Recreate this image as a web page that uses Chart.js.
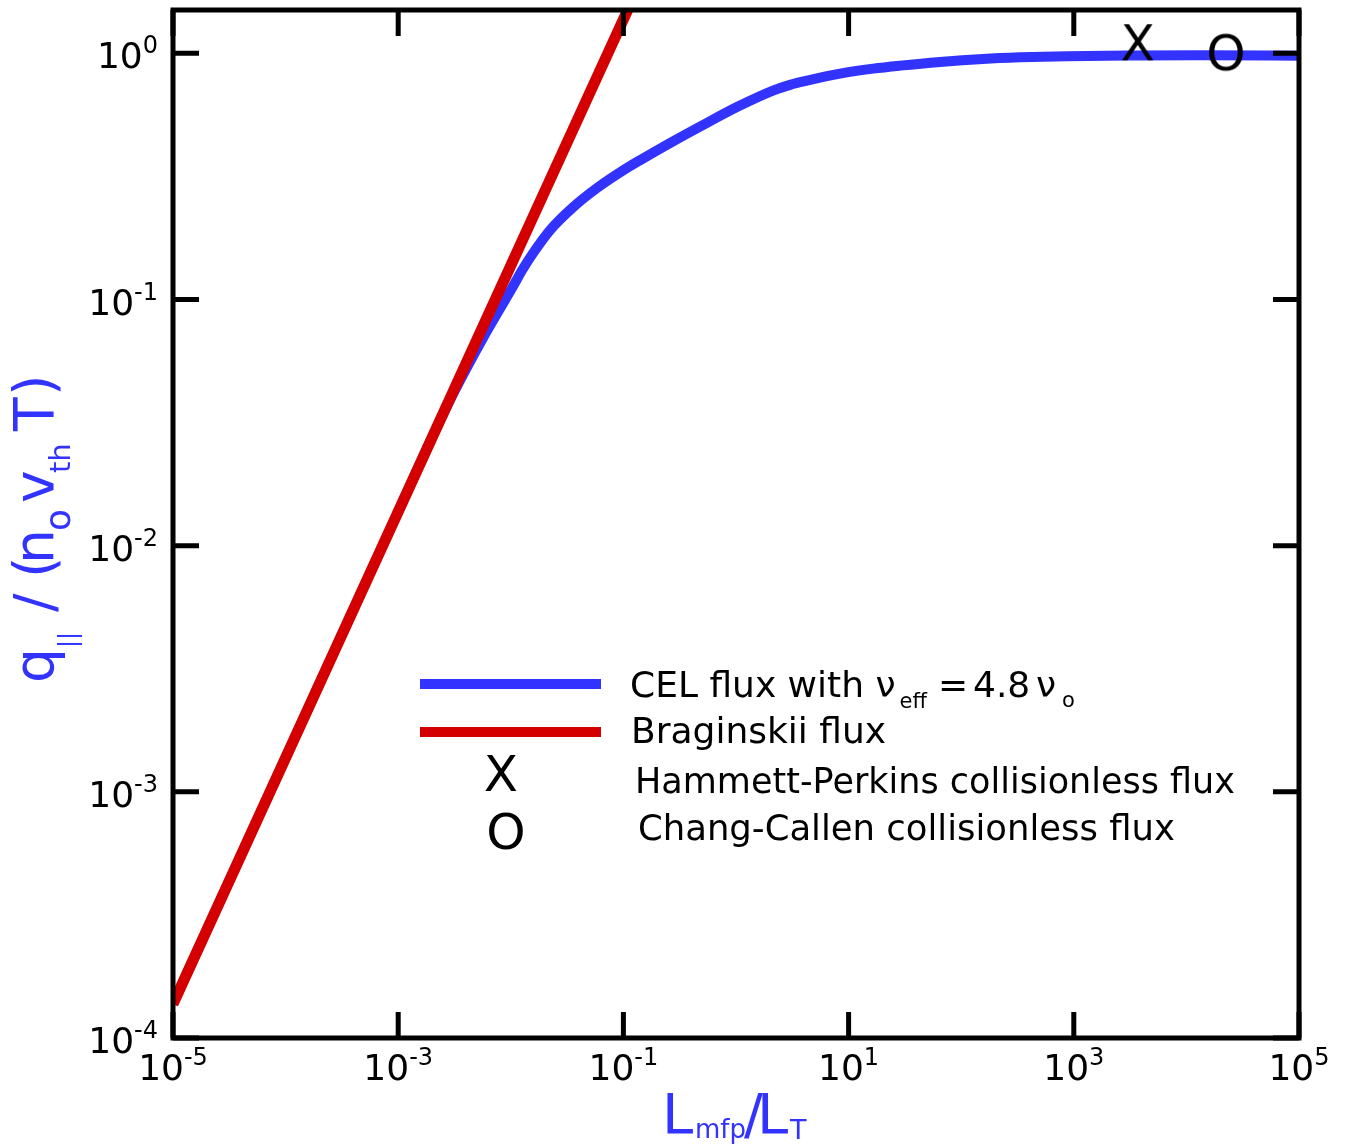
<!DOCTYPE html>
<html>
<head>
<meta charset="utf-8">
<script src="https://cdn.jsdelivr.net/npm/chart.js@4.4.1/dist/chart.umd.min.js"></script>
<style>
  html, body { margin: 0; padding: 0; background: #fff; }
  #wrap { width: 1347px; height: 1148px; }
</style>
</head>
<body>
<div id="wrap"><canvas id="fluxChart" width="1347" height="1148"></canvas></div>
<script>
// CEL heat flux with nu_eff = 4.8 nu_0
const celX = [1e-5, 1e-4, 1e-3, 1.92e-3, 2.88e-3, 3.96e-3, 5.78e-3, 7.86e-3, 0.01035, 0.0126, 0.01575, 0.0223, 0.0357, 0.0595, 0.110, 0.140, 0.276, 0.553, 1.085, 2.13, 3.02, 4.27, 8.39, 16.5, 28.6, 64.8, 156, 333, 870, 3356, 13210, 1e5];
const celY = [1.374e-4, 1.374e-3, 0.01374, 0.0264, 0.0390, 0.0516, 0.0709, 0.0904, 0.1121, 0.1315, 0.1541, 0.1911, 0.2369, 0.2856, 0.3444, 0.3677, 0.4392, 0.5222, 0.6133, 0.7054, 0.7449, 0.7747, 0.8272, 0.8667, 0.8914, 0.9228, 0.9490, 0.9633, 0.9742, 0.9797, 0.9815, 0.9787];

// Braginskii flux (straight line, slope 1 in log-log)
const bragX = [1e-5, 0.115];
const bragY = [1.374e-4, 1.58];

// collisionless limits
const hpX = [3700];
const hpY = [1.11];
const ccX = [22500];
const ccY = [1.01];

const xTicks = [1e-5, 1e-3, 1e-1, 1e1, 1e3, 1e5];
const yTicks = [1e-4, 1e-3, 1e-2, 1e-1, 1e0];

const BLUE = '#3333ff';
const RED = '#d40000';
const FONT = '"DejaVu Sans"';

// letter markers used as point styles
function glyph(ch) {
  const c = document.createElement('canvas');
  c.width = 60; c.height = 60;
  const g = c.getContext('2d');
  g.fillStyle = '#000';
  g.font = '50px ' + FONT;
  g.textAlign = 'center';
  g.textBaseline = 'alphabetic';
  g.fillText(ch, 30, 48);
  return c;
}
const xMark = glyph('X');
const oMark = glyph('O');

function pts(xs, ys) {
  return xs.map((x, i) => ({ x: x, y: ys[i] }));
}

// "10" with a superscript exponent
function powerLabel(ctx, v, x, y, align) {
  const exp = String(Math.round(Math.log10(v)));
  ctx.font = '36px ' + FONT;
  const wBase = ctx.measureText('10').width;
  ctx.font = '24px ' + FONT;
  const wExp = ctx.measureText(exp).width;
  const total = wBase + wExp;
  const x0 = align === 'center' ? x - total / 2 : x - total;
  ctx.textAlign = 'left';
  ctx.font = '36px ' + FONT;
  ctx.fillText('10', x0, y);
  ctx.font = '24px ' + FONT;
  ctx.fillText(exp, x0 + wBase, y - 15);
}

const framePlugin = {
  id: 'frame',
  afterDraw(chart) {
    const { ctx, chartArea: a, scales } = chart;
    ctx.save();

    // box and inward ticks on all four sides
    ctx.strokeStyle = '#000';
    ctx.lineWidth = 5;
    ctx.beginPath();
    xTicks.forEach(v => {
      const px = scales.x.getPixelForValue(v);
      ctx.moveTo(px, a.bottom); ctx.lineTo(px, a.bottom - 26);
      ctx.moveTo(px, a.top); ctx.lineTo(px, a.top + 26);
    });
    yTicks.forEach(v => {
      const py = scales.y.getPixelForValue(v);
      ctx.moveTo(a.left, py); ctx.lineTo(a.left + 26, py);
      ctx.moveTo(a.right, py); ctx.lineTo(a.right - 26, py);
    });
    ctx.stroke();
    ctx.strokeRect(a.left, a.top, a.right - a.left, a.bottom - a.top);

    // tick labels
    ctx.fillStyle = '#000';
    ctx.textBaseline = 'alphabetic';
    xTicks.forEach(v => {
      powerLabel(ctx, v, scales.x.getPixelForValue(v), a.bottom + 42, 'center');
    });
    yTicks.forEach(v => {
      powerLabel(ctx, v, a.left - 15, scales.y.getPixelForValue(v) + 15, 'right');
    });

    // x axis title: L_mfp / L_T
    const cx = (a.left + a.right) / 2;
    const by = a.bottom + 95;
    ctx.fillStyle = BLUE;
    ctx.font = '56px ' + FONT;
    ctx.fillText('L', cx - 74, by);
    ctx.fillText('/', cx + 8, by);
    ctx.fillText('L', cx + 21, by);
    ctx.font = '26px ' + FONT;
    ctx.fillText('mfp', cx - 41, by + 5);
    ctx.font = '27px ' + FONT;
    ctx.fillText('T', cx + 54, by + 6);

    // y axis title: q_|| /(n_o v_th T)
    ctx.save();
    ctx.translate(a.left - 120, (a.top + a.bottom) / 2 + 156);
    ctx.rotate(-Math.PI / 2);
    const seg = (t, s, size, dy) => {
      ctx.font = size + 'px ' + FONT;
      ctx.fillText(t, s, dy);
    };
    seg('q', -3, 55, 0);
    seg('||', 32, 24, 23);
    seg('/', 68, 55, 0);
    seg('(', 102, 55, 0);
    seg('n', 116, 55, 0);
    seg('o', 149, 36, 17);
    seg('v', 177, 55, 0);
    seg('th', 207, 29, 17);
    seg('T', 249, 55, 0);
    seg(')', 284, 55, 0);
    ctx.restore();

    // legend
    ctx.lineWidth = 10;
    ctx.strokeStyle = BLUE;
    ctx.beginPath(); ctx.moveTo(420, 684); ctx.lineTo(601, 684); ctx.stroke();
    ctx.strokeStyle = RED;
    ctx.beginPath(); ctx.moveTo(420, 732); ctx.lineTo(601, 732); ctx.stroke();
    ctx.drawImage(xMark, 501 - 30, 773 - 30);
    ctx.drawImage(oMark, 506 - 30, 831 - 30);

    ctx.fillStyle = '#000';
    ctx.font = '36px ' + FONT;
    const head = 'CEL flux with \u03bd';
    const wHead = ctx.measureText(head).width;
    ctx.fillText(head, 630, 697);
    ctx.fillText('=', 938, 697);
    ctx.fillText('4.8', 973, 697);
    ctx.fillText('\u03bd', 1036, 697);
    ctx.fillText('Braginskii flux', 631, 743);
    ctx.fillText('Hammett-Perkins collisionless flux', 635, 793, 600);
    ctx.fillText('Chang-Callen collisionless flux', 638, 840, 537);
    ctx.font = '21px ' + FONT;
    ctx.fillText('eff', 630 + wHead + 4, 708);
    ctx.fillText('o', 1062, 707);

    ctx.restore();
  }
};

new Chart(document.getElementById('fluxChart'), {
  type: 'line',
  data: {
    datasets: [
      {
        label: 'Hammett-Perkins collisionless flux',
        data: pts(hpX, hpY),
        showLine: false,
        pointStyle: xMark,
        pointRadius: 20,
        clip: false
      },
      {
        label: 'Chang-Callen collisionless flux',
        data: pts(ccX, ccY),
        showLine: false,
        pointStyle: oMark,
        pointRadius: 20,
        clip: false
      },
      {
        label: 'Braginskii flux',
        data: pts(bragX, bragY),
        borderColor: RED,
        borderWidth: 11,
        pointRadius: 0,
        clip: 0
      },
      {
        label: 'CEL flux',
        data: pts(celX, celY),
        borderColor: BLUE,
        borderWidth: 10,
        pointRadius: 0,
        cubicInterpolationMode: 'monotone',
        clip: 0
      }
    ]
  },
  options: {
    responsive: false,
    animation: false,
    events: [],
    layout: {
      autoPadding: false,
      padding: { left: 173, right: 48, top: 10, bottom: 110 }
    },
    scales: {
      x: { type: 'logarithmic', min: 1e-5, max: 1e5, display: false },
      y: { type: 'logarithmic', min: 1e-4, max: 1.5, display: false }
    },
    plugins: {
      legend: { display: false },
      tooltip: { enabled: false }
    }
  },
  plugins: [framePlugin]
});
</script>
</body>
</html>
